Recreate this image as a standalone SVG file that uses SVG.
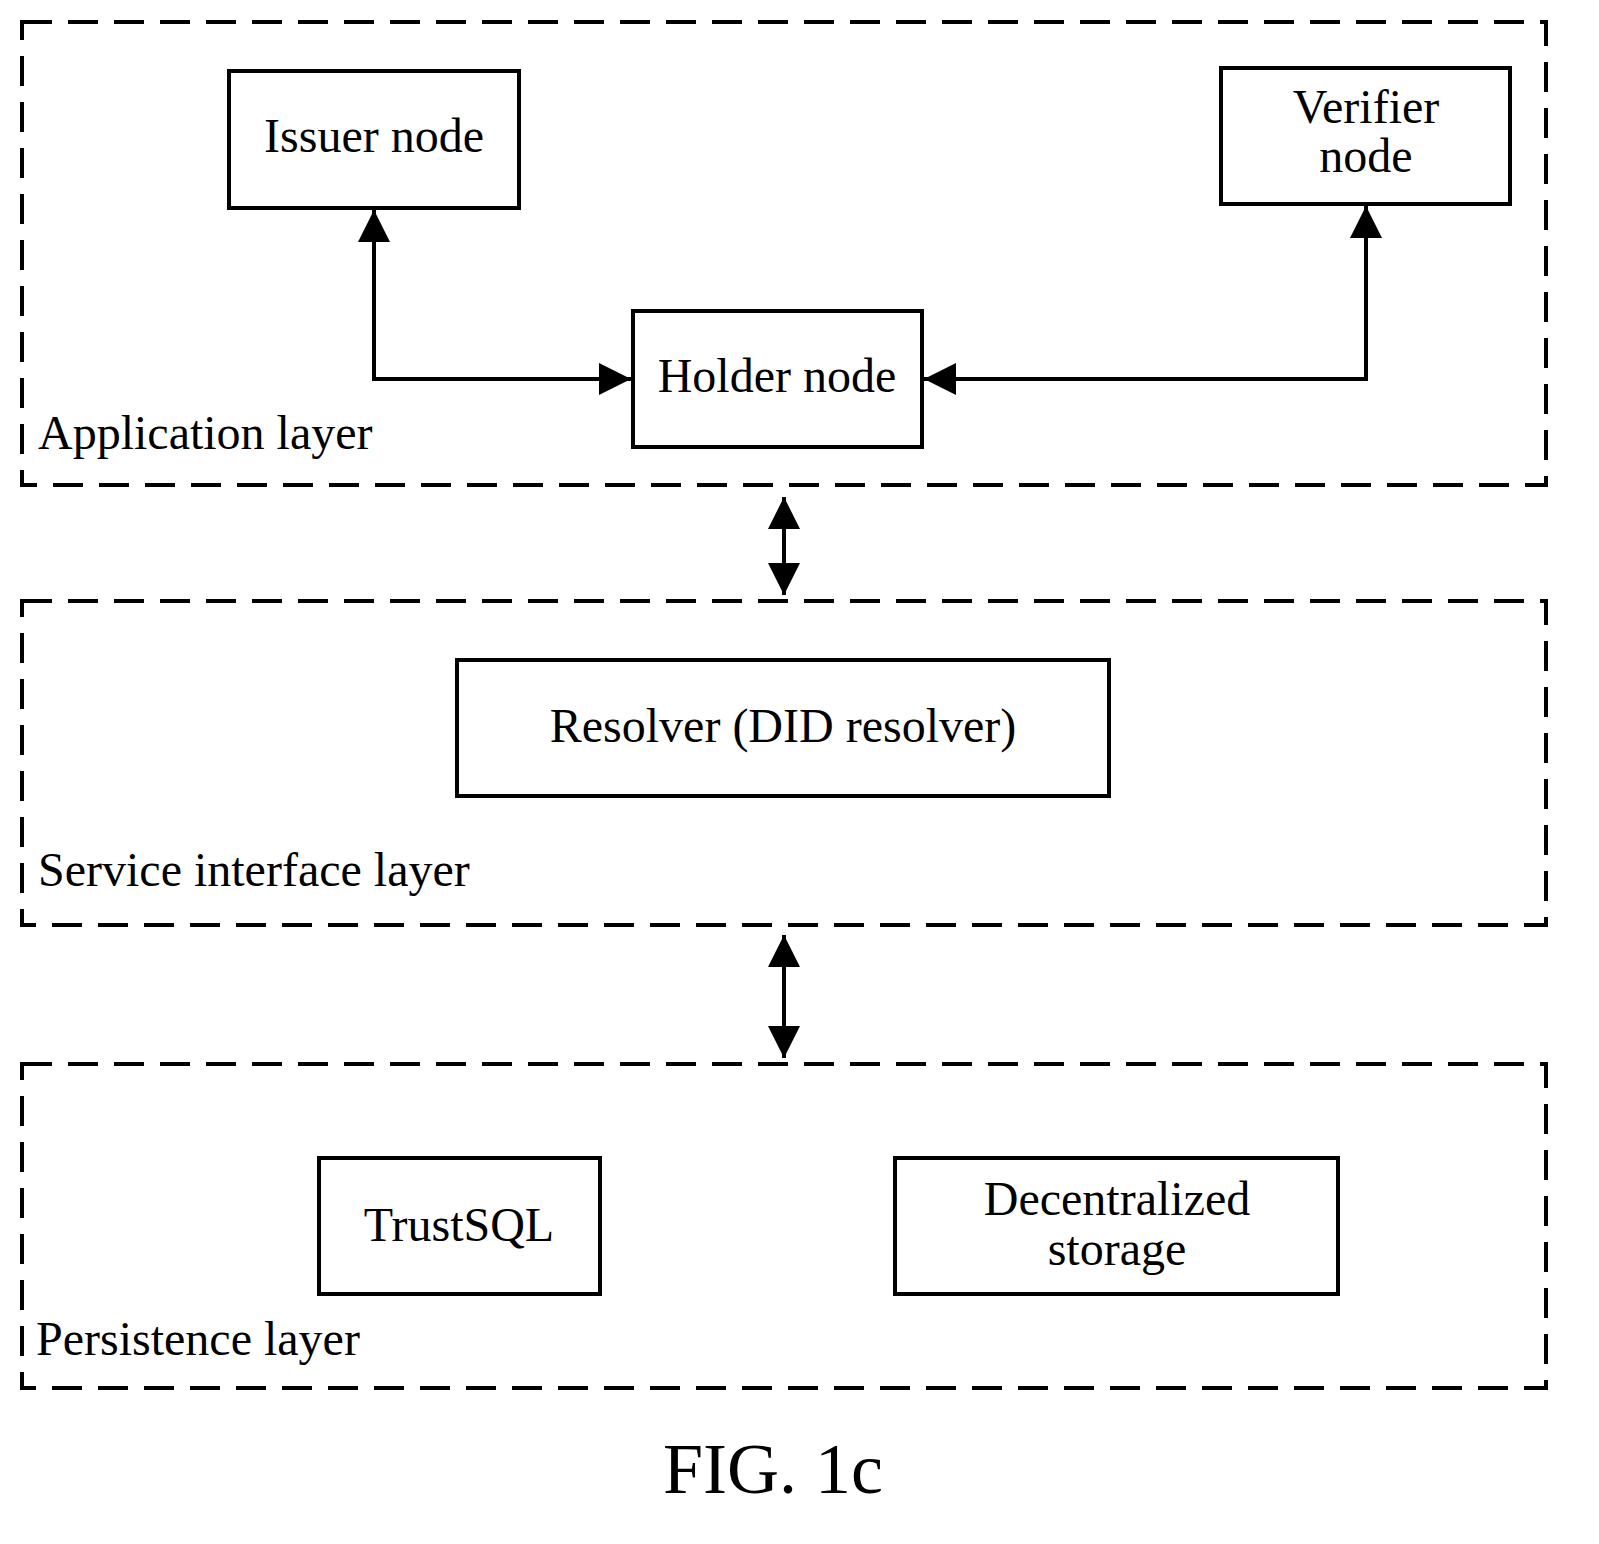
<svg xmlns="http://www.w3.org/2000/svg" width="1599" height="1544" viewBox="0 0 1599 1544">
<defs>
<marker id="a" viewBox="0 0 10 10" refX="10" refY="5" markerWidth="44" markerHeight="32" markerUnits="userSpaceOnUse" orient="auto-start-reverse"><path d="M0,0 L10,5 L0,10 z" fill="#000"/></marker>
</defs>
<style>
.layer{fill:none;stroke:#000;stroke-width:4;stroke-dasharray:30 16}
.box{fill:#fff;stroke:#000;stroke-width:4}
text{font-family:"Liberation Serif","Times New Roman",serif;font-size:48px;fill:#000}
.c{text-anchor:middle}
.ln{fill:none;stroke:#000;stroke-width:4}
</style>
<rect x="0" y="0" width="1599" height="1544" fill="#fff"/>
<g id="application-layer"><rect class="layer" x="22" y="22" width="1524" height="463"/><text x="38" y="449">Application layer</text></g>
<g id="service-layer"><rect class="layer" x="22" y="601" width="1524" height="324"/><text x="38" y="886">Service interface layer</text></g>
<g id="persistence-layer"><rect class="layer" x="22" y="1064" width="1524" height="324"/><text x="36" y="1355">Persistence layer</text></g>
<g id="issuer"><rect class="box" x="229" y="71" width="290" height="137"/><text class="c" x="374" y="152">Issuer node</text></g>
<g id="verifier"><rect class="box" x="1221" y="68" width="289" height="136"/><text class="c" x="1366" y="123">Verifier</text><text class="c" x="1366" y="172">node</text></g>
<g id="holder"><rect class="box" x="633" y="311" width="289" height="136"/><text class="c" x="777" y="392">Holder node</text></g>
<g id="resolver"><rect class="box" x="457" y="660" width="652" height="136"/><text class="c" x="783" y="742">Resolver (DID resolver)</text></g>
<g id="trustsql"><rect class="box" x="319" y="1158" width="281" height="136"/><text class="c" x="459" y="1241">TrustSQL</text></g>
<g id="storage"><rect class="box" x="895" y="1158" width="443" height="136"/><text class="c" x="1117" y="1215">Decentralized</text><text class="c" x="1117" y="1265">storage</text></g>
<g id="connectors">
<polyline class="ln" points="374,210 374,379 631,379" marker-start="url(#a)" marker-end="url(#a)"/>
<polyline class="ln" points="1366,206 1366,379 924,379" marker-start="url(#a)" marker-end="url(#a)"/>
<line class="ln" x1="784" y1="497" x2="784" y2="595" marker-start="url(#a)" marker-end="url(#a)"/>
<line class="ln" x1="784" y1="935" x2="784" y2="1058" marker-start="url(#a)" marker-end="url(#a)"/>
</g>
<text class="c" x="773" y="1493" style="font-size:72px">FIG. 1c</text>
</svg>
